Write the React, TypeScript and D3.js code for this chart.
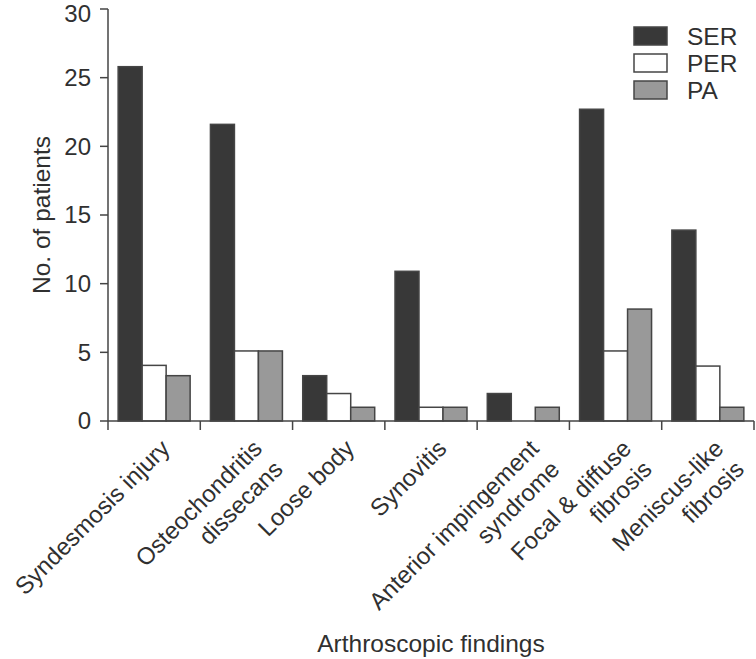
import React from "react";
import * as d3 from "d3";

const categories: string[][] = [
  ["Syndesmosis injury"],
  ["Osteochondritis", "dissecans"],
  ["Loose body"],
  ["Synovitis"],
  ["Anterior impingement", "syndrome"],
  ["Focal & diffuse", "fibrosis"],
  ["Meniscus-like", "fibrosis"],
];
const seriesNames = ["SER", "PER", "PA"];
const serValues = [25.8, 21.6, 3.3, 10.9, 2.0, 22.7, 13.9];
const perValues = [4.05, 5.1, 2.0, 1.0, 0, 5.1, 4.0];
const paValues = [3.3, 5.1, 1.0, 1.0, 1.0, 8.15, 1.0];
const yTicks = [0, 5, 10, 15, 20, 25, 30];

const fills: Record<string, string> = { SER: "#383838", PER: "#ffffff", PA: "#999999" };
const FONT = "'Liberation Sans', Arial, Helvetica, sans-serif";

export default function App() {
  const W = 756, H = 659;
  const x0 = 108, x1 = 754, yBase = 421, yTop = 9;
  const keys = categories.map((c) => c.join(" "));
  const x = d3.scaleBand<string>().domain(keys).range([x0, x1]).paddingInner(0.22).paddingOuter(0.11);
  const xs = d3.scaleBand<string>().domain(seriesNames).range([0, x.bandwidth()]);
  const y = d3.scaleLinear().domain([0, 30]).range([yBase, yTop]);
  const step = x.step();
  const valuesBySeries: Record<string, number[]> = { SER: serValues, PER: perValues, PA: paValues };
  const stroke = "#454545";
  const textColor = "#303030";

  return (
    <svg width={W} height={H} style={{ position: "absolute", left: 0, top: 0, background: "#fff" }} fontFamily={FONT}>
      {/* bars */}
      {keys.map((k, i) => (
        <g key={k} transform={`translate(${x(k)},0)`}>
          {seriesNames.map((s) => {
            const v = valuesBySeries[s][i];
            if (v <= 0) return null;
            return (
              <rect
                key={s}
                x={xs(s)}
                y={y(v)}
                width={xs.bandwidth()}
                height={yBase - y(v)}
                fill={fills[s]}
                stroke={stroke}
                strokeWidth={1.5}
              />
            );
          })}
        </g>
      ))}
      {/* y axis */}
      <line x1={x0} x2={x0} y1={yTop} y2={yBase} stroke={stroke} strokeWidth={1.5} />
      {yTicks.map((t) => (
        <g key={t}>
          <line x1={x0 - 8} x2={x0} y1={y(t)} y2={y(t)} stroke={stroke} strokeWidth={1.5} />
          <text x={91} y={Math.max(y(t), 13.5)} dy="0.35em" textAnchor="end" fontSize={24} fill={textColor}>
            {t}
          </text>
        </g>
      ))}
      {/* x axis */}
      <line x1={x0} x2={x1} y1={yBase} y2={yBase} stroke={stroke} strokeWidth={1.5} />
      {d3.range(keys.length + 1).map((i) => (
        <line key={i} x1={x0 + i * step} x2={x0 + i * step} y1={yBase} y2={yBase + 9} stroke={stroke} strokeWidth={1.5} />
      ))}
      {categories.map((lines, i) => {
        const cx = (x(keys[i]) as number) + x.bandwidth() / 2;
        return (
          <text
            key={i}
            transform={`translate(${cx + 17},${yBase + 29}) rotate(-45)`}
            textAnchor="end"
            fontSize={24}
            fill={textColor}
          >
            {lines.map((l, j) => (
              <tspan key={j} x={0} dy={j === 0 ? 0 : "1.22em"}>
                {l}
              </tspan>
            ))}
          </text>
        );
      })}
      {/* axis titles */}
      <text x={(x0 + x1) / 2} y={652} textAnchor="middle" fontSize={24.5} fill={textColor}>
        Arthroscopic findings
      </text>
      <text transform={`translate(50,${(yTop + yBase) / 2}) rotate(-90)`} textAnchor="middle" fontSize={24.5} fill={textColor}>
        No. of patients
      </text>
      {/* legend */}
      {seriesNames.map((s, i) => (
        <g key={s} transform={`translate(634,${27 + i * 27})`}>
          <rect x={0} y={0} width={33} height={18} fill={fills[s]} stroke={stroke} strokeWidth={1.5} />
          <text x={53} y={18} fontSize={24.5} fill={textColor}>
            {s}
          </text>
        </g>
      ))}
    </svg>
  );
}
